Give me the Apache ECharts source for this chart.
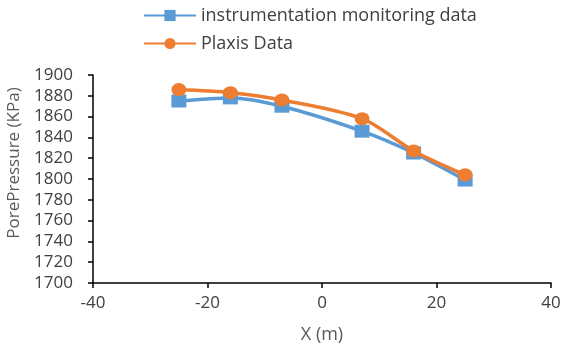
<!DOCTYPE html>
<html>
<head>
<meta charset="utf-8">
<script src="https://cdn.jsdelivr.net/npm/echarts@6/dist/echarts.min.js"></script>
<style>
  html, body { margin: 0; padding: 0; background: #fff; }
  #chart { width: 564px; height: 347px; }
</style>
</head>
<body>
<div id="chart"></div>
<script>
// Horizontal position of each measuring point (m)
const xPositions = [-25, -16, -7, 7, 16, 25];
// Pore pressure (KPa) from the instruments and from the Plaxis model
const monitoringValues = [1875, 1878, 1870, 1846, 1825, 1799];
const plaxisValues = [1886, 1883, 1876, 1858, 1827, 1804];

const seriesNames = ['instrumentation monitoring data', 'Plaxis Data'];
const yTicks = { min: 1700, max: 1900, step: 20 };
const xTicks = { min: -40, max: 40, step: 20 };

const pairs = vals => xPositions.map((x, i) => [x, vals[i]]);
const font = 'Open Sans, Liberation Sans, sans-serif';

const chart = echarts.init(document.getElementById('chart'));
chart.setOption({
  animation: false,
  textStyle: { fontFamily: font },
  legend: {
    orient: 'vertical',
    left: 143,
    top: 6,
    padding: 0,
    itemWidth: 52,
    itemHeight: 14,
    itemGap: 9,
    textStyle: { fontSize: 18, lineHeight: 19, color: '#404040', fontFamily: font },
    data: seriesNames
  },
  grid: { left: 93, right: 13, top: 75, bottom: 64, outerBoundsMode: 'none', containLabel: false },
  xAxis: {
    type: 'value',
    min: xTicks.min, max: xTicks.max, interval: xTicks.step,
    name: 'X (m)',
    nameLocation: 'middle',
    nameGap: 43,
    nameTextStyle: { fontSize: 18, color: '#595959' },
    axisLine: { onZero: false, lineStyle: { color: '#000', width: 1.5 } },
    axisTick: { length: 5, lineStyle: { color: '#000', width: 1.5 } },
    axisLabel: { fontSize: 17, color: '#404040', margin: 12 },
    splitLine: { show: false }
  },
  yAxis: {
    type: 'value',
    min: yTicks.min, max: yTicks.max, interval: yTicks.step,
    name: 'PorePressure (KPa)',
    nameLocation: 'middle',
    nameGap: 70,
    nameTextStyle: { fontSize: 17, color: '#595959', padding: [0, 0, 0, 32] },
    axisLine: { show: true, onZero: false, lineStyle: { color: '#000', width: 1.5 } },
    axisTick: { show: true, length: 5, lineStyle: { color: '#000', width: 1.5 } },
    axisLabel: { fontSize: 17, color: '#404040', margin: 20, formatter: v => String(v) },
    splitLine: { show: false }
  },
  series: [
    {
      name: seriesNames[0],
      type: 'line',
      data: pairs(monitoringValues),
      smooth: 0.3,
      symbol: 'rect',
      symbolSize: [15, 13],
      lineStyle: { color: '#5B9BD5', width: 3.5 },
      itemStyle: { color: '#5B9BD5' },
      z: 2
    },
    {
      name: seriesNames[1],
      type: 'line',
      data: pairs(plaxisValues),
      smooth: 0.3,
      symbol: 'circle',
      symbolSize: [15, 13],
      lineStyle: { color: '#ED7D31', width: 3.5 },
      itemStyle: { color: '#ED7D31' },
      z: 3
    }
  ]
});
</script>
</body>
</html>
